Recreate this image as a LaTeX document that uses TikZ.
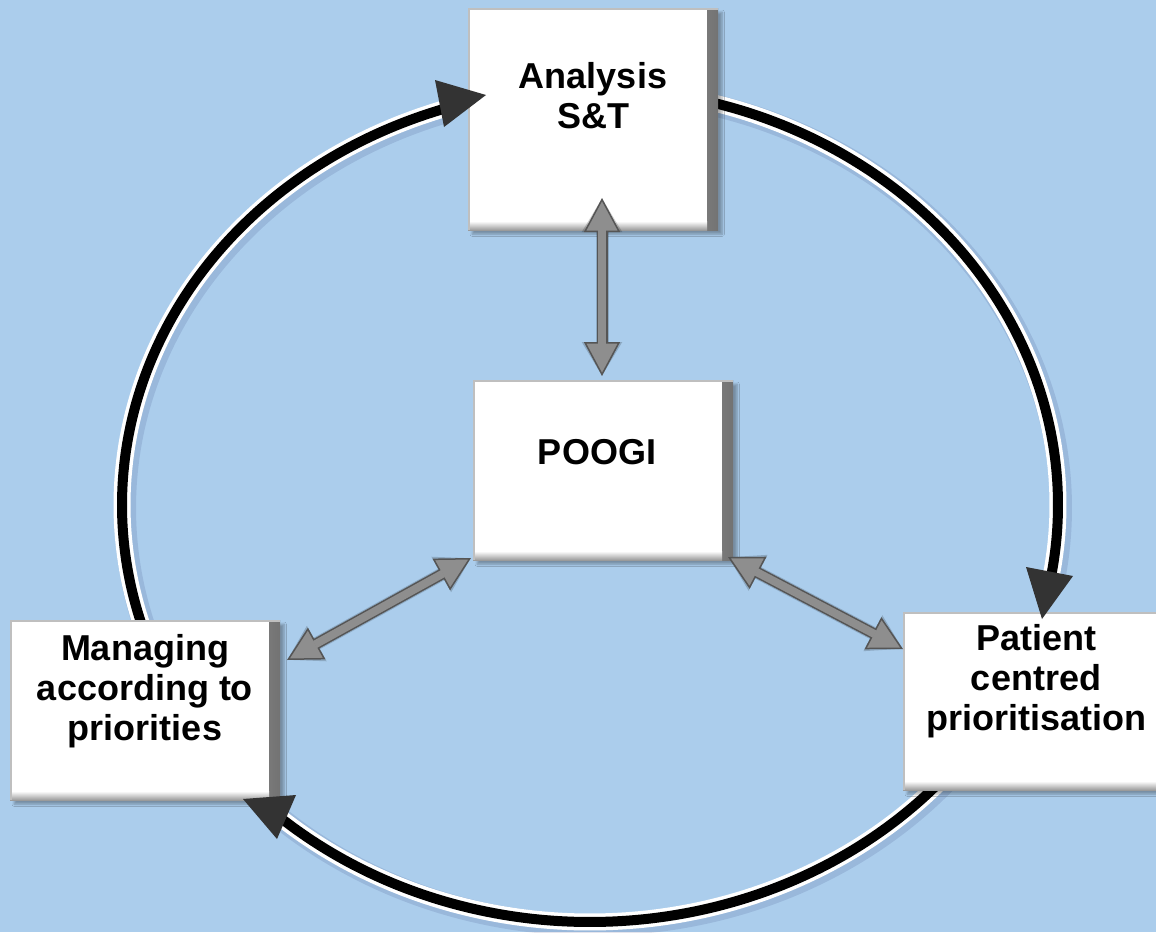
\documentclass[tikz,border=0pt]{standalone}
\usepackage{fontspec}
\setmainfont{Liberation Sans}
\usetikzlibrary{arrows.meta,shadows.blur}
\definecolor{bg}{HTML}{ABCDEC}
\definecolor{headdark}{HTML}{333333}
\definecolor{gfill}{HTML}{8E8E8E}
\definecolor{gline}{HTML}{555555}
\tikzset{
  ringw/.style={line width=17pt, white},
  ringb/.style={line width=10pt, black},
  ringsh/.style={line width=22pt, black!70!blue, opacity=0.10},
  headtri/.style={fill=headdark, draw=none},
  bx/.style={anchor=north west, inner sep=0pt, fill=white, draw=none,
     blur shadow={shadow xshift=4pt, shadow yshift=-4pt, shadow opacity=30, shadow blur steps=8},
     path picture={
       \shade[left color=white, right color=black!55] ([xshift=-11pt]path picture bounding box.north east) rectangle (path picture bounding box.south east);
       \shade[top color=white, bottom color=black!40] ([yshift=9pt]path picture bounding box.south west) rectangle ([xshift=-11pt]path picture bounding box.south east);
       \draw[black!25, line width=3pt] (path picture bounding box.south west) -- (path picture bounding box.north west) -- (path picture bounding box.north east);
     }},
  lbl/.style={font=\bfseries\fontsize{36}{40}\selectfont, align=center, inner sep=0pt},
  dbl/.style={line width=11pt, gline, {Triangle[length=34pt,width=36pt,fill=gfill,line width=1.5pt]}-{Triangle[length=34pt,width=36pt,fill=gfill,line width=1.5pt]}},
  dblin/.style={line width=8pt, gfill, shorten <=32pt, shorten >=32pt},
  dblsh/.style={line width=13pt, black, opacity=0.18, {Triangle[length=34pt,width=38pt]}-{Triangle[length=34pt,width=38pt]}},
}
\begin{document}
\begin{tikzpicture}[x=1pt,y=-1pt]
\fill[bg] (0,0) rectangle (1156,932);
\useasboundingbox (0,0) rectangle (1156,932);

% ring shadow
\begin{scope}[xshift=3pt,yshift=-3pt]
\draw[ringsh] plot[domain=158:252, samples=100, smooth, variable=\t] ({590+468*cos(\t)},{505+417*sin(\t)});
\draw[ringsh] plot[domain=-80:10.5, samples=100, smooth, variable=\t] ({590+468*cos(\t)},{505+417*sin(\t)});
\draw[ringsh] plot[domain=38:132, samples=100, smooth, variable=\t] ({590+468*cos(\t)},{505+417*sin(\t)});
\end{scope}
% ring
\draw[ringw] plot[domain=158:252, samples=100, smooth, variable=\t] ({590+468*cos(\t)},{505+417*sin(\t)});
\draw[ringw] plot[domain=-80:10.5, samples=100, smooth, variable=\t] ({590+468*cos(\t)},{505+417*sin(\t)});
\draw[ringw] plot[domain=38:132, samples=100, smooth, variable=\t] ({590+468*cos(\t)},{505+417*sin(\t)});
\draw[ringb] plot[domain=158:252, samples=100, smooth, variable=\t] ({590+468*cos(\t)},{505+417*sin(\t)});
\draw[ringb] plot[domain=-80:10.5, samples=100, smooth, variable=\t] ({590+468*cos(\t)},{505+417*sin(\t)});
\draw[ringb] plot[domain=38:132, samples=100, smooth, variable=\t] ({590+468*cos(\t)},{505+417*sin(\t)});

% boxes
\node[bx, minimum width=250pt, minimum height=222pt] (ana) at (468,8) {};
\node[bx, minimum width=260pt, minimum height=180pt] (poo) at (473,380) {};
\node[bx, minimum width=270pt, minimum height=180pt] (man) at (10,620) {};
\node[bx, minimum width=270pt, minimum height=178pt] (pat) at (903,612) {};

% labels
\node[lbl] (anaT) at (593,96) {Analysis\\S\&T};
\node[lbl] (pooT) at (597,452) {POOGI};
\node[lbl] (manT) at (145,691) {Managing\\according to\\priorities};
\node[lbl] (patT) at (1036,681) {Patient\\centred\\prioritisation};

% ring arrowheads
\coordinate (h1t) at (486,95);  \coordinate (h1a) at (435,80);  \coordinate (h1b) at (444,127);
\coordinate (h2t) at (1042,619); \coordinate (h2a) at (1026,567); \coordinate (h2b) at (1073,576);
\coordinate (h3t) at (243,799); \coordinate (h3a) at (296,795); \coordinate (h3b) at (277,839);
\fill[headtri] (h1t) -- (h1a) -- (h1b) -- cycle;
\fill[headtri] (h2t) -- (h2a) -- (h2b) -- cycle;
\fill[headtri] (h3t) -- (h3a) -- (h3b) -- cycle;

% gray double arrows
\coordinate (v1) at (602,198); \coordinate (v2) at (602,376);
\coordinate (l1) at (287,660); \coordinate (l2) at (471,558);
\coordinate (r1) at (728,557); \coordinate (r2) at (903,649);
\begin{scope}[xshift=3pt,yshift=-4pt]
\draw[dblsh] (v1) -- (v2);
\draw[dblsh] (l1) -- (l2);
\draw[dblsh] (r1) -- (r2);
\end{scope}
\draw[dbl] (v1) -- (v2);
\draw[dblin] (v1) -- (v2);
\draw[dbl] (l1) -- (l2);
\draw[dblin] (l1) -- (l2);
\draw[dbl] (r1) -- (r2);
\draw[dblin] (r1) -- (r2);
\end{tikzpicture}
\end{document}
